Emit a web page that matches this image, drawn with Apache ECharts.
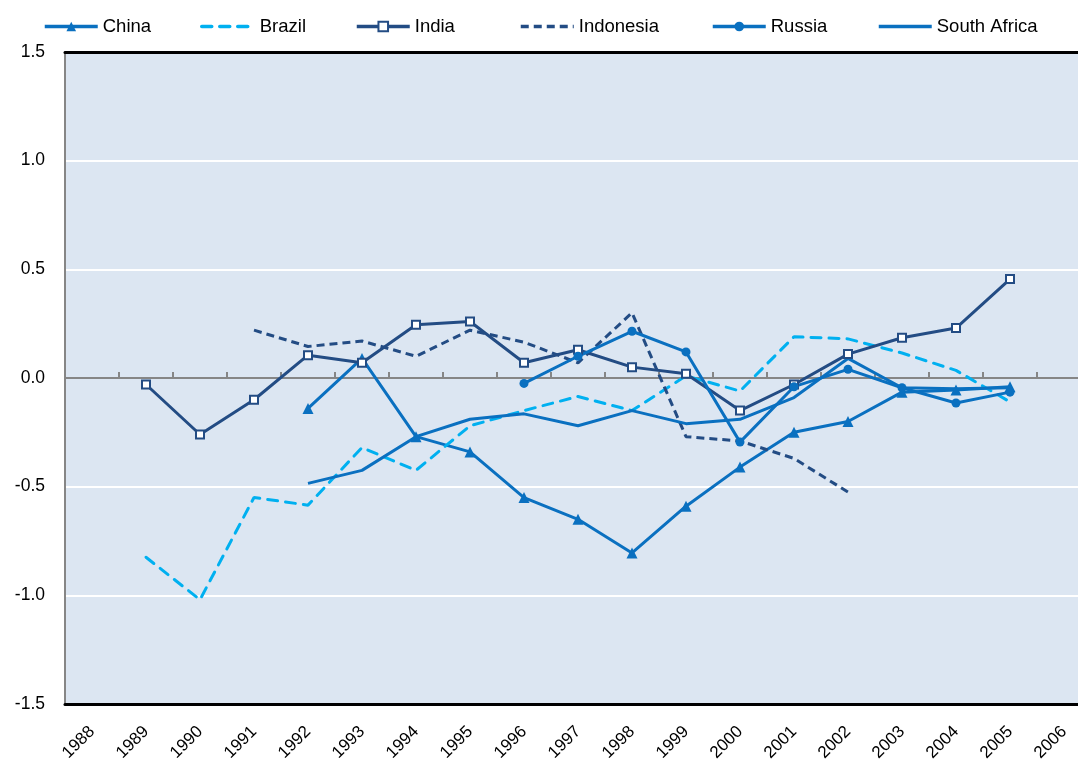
<!DOCTYPE html>
<html>
<head>
<meta charset="utf-8">
<script src="https://cdn.jsdelivr.net/npm/echarts@6/dist/echarts.min.js"></script>
<style>
  html, body { margin: 0; padding: 0; background: #fff; overflow: hidden; }
  /* the plot runs past the right edge of the window, as in the original */
  #chart { width: 1092px; height: 764px; }
</style>
</head>
<body>
<div id="chart"></div>
<script>
// years on the category axis
var years = ['1988', '1989', '1990', '1991', '1992', '1993', '1994', '1995', '1996', '1997',
  '1998', '1999', '2000', '2001', '2002', '2003', '2004', '2005', '2006'];

// values (null = no data)
var china = [null, null, null, null, -0.14, 0.09, -0.27, -0.34, -0.55, -0.65, -0.805, -0.59, -0.41, -0.25, -0.20, -0.065, -0.055, -0.04, null];
var brazil = [null, -0.825, -1.02, -0.55, -0.585, -0.32, -0.425, -0.22, -0.15, -0.085, -0.15, 0.01, -0.06, 0.19, 0.18, 0.115, 0.035, -0.11, null];
var india = [null, -0.03, -0.26, -0.10, 0.105, 0.07, 0.245, 0.26, 0.07, 0.13, 0.05, 0.02, -0.15, -0.03, 0.11, 0.185, 0.23, 0.455, null];
var indonesia = [null, null, null, 0.22, 0.145, 0.17, 0.10, 0.22, 0.165, 0.07, 0.30, -0.27, -0.29, -0.37, -0.525, null, null, null, null];
var russia = [null, null, null, null, null, null, null, null, -0.025, 0.10, 0.215, 0.12, -0.295, -0.04, 0.04, -0.045, -0.115, -0.065, null];
var southAfrica = [null, null, null, null, -0.485, -0.425, -0.27, -0.19, -0.165, -0.22, -0.15, -0.21, -0.19, -0.09, 0.09, -0.045, -0.05, -0.045, null];

var seriesNames = ['China', 'Brazil', 'India', 'Indonesia', 'Russia', 'South Africa'];
var yTicks = [-1.5, -1.0, -0.5, 0.0, 0.5, 1.0, 1.5];

var blue = '#0A70C0';
var lightBlue = '#00B0F0';
var navy = '#234C84';
var font = 'Liberation Sans, Arial, sans-serif';

// legend entries are not evenly spaced in the original, so one legend per entry
var legendLeft = [38, 195, 350, 514, 706, 872];

var chart = echarts.init(document.getElementById('chart'));

function lineSeries(name, data, color, extra) {
  var s = {
    name: name,
    type: 'line',
    data: data,
    xAxisIndex: 0,
    // invisible symbol so the legend shows a plain line
    symbol: 'circle',
    showSymbol: false,
    lineStyle: { color: color, width: 3 },
    itemStyle: { color: 'rgba(0,0,0,0)', borderWidth: 0 },
    animation: false,
    z: 5
  };
  for (var k in extra) s[k] = extra[k];
  return s;
}

var legends = seriesNames.map(function (name, i) {
  return {
    left: legendLeft[i],
    top: 12,
    itemWidth: 53,
    itemHeight: 12,
    itemGap: 0,
    selectedMode: false,
    lineStyle: { width: 3.5 },
    textStyle: { fontSize: 18.5, color: '#000', fontFamily: font },
    data: [name]
  };
});

var option = {
  backgroundColor: '#fff',
  textStyle: { fontFamily: font },
  legend: legends,
  grid: {
    left: 65,
    top: 52,
    width: 1026,
    height: 652,
    show: true,
    backgroundColor: '#DCE6F2',
    borderWidth: 0
  },
  xAxis: [
    {
      type: 'category',
      data: years,
      position: 'bottom',
      boundaryGap: true,
      axisLine: { onZero: false, lineStyle: { color: '#000', width: 3 } },
      axisTick: { show: false },
      axisLabel: { rotate: 45, margin: 25, fontSize: 17, color: '#000', interval: 0 },
      splitLine: { show: false }
    },
    {
      type: 'category',
      data: years,
      position: 'top',
      axisLine: { onZero: false, lineStyle: { color: '#000', width: 3 } },
      axisTick: { show: false },
      axisLabel: { show: false }
    },
    {
      type: 'category',
      data: years,
      position: 'bottom',
      axisLine: { onZero: true, lineStyle: { color: '#868686', width: 2 } },
      axisTick: { show: true, inside: true, length: 6, interval: 0, lineStyle: { color: '#868686', width: 2 } },
      axisLabel: { show: false }
    }
  ],
  yAxis: {
    type: 'value',
    min: yTicks[0],
    max: yTicks[yTicks.length - 1],
    interval: 0.5,
    axisLine: { show: true, lineStyle: { color: '#868686', width: 2 } },
    axisTick: { show: false },
    axisLabel: {
      fontSize: 17.5,
      color: '#000',
      margin: 20,
      formatter: function (v) { return v.toFixed(1); }
    },
    splitLine: { show: true, lineStyle: { color: '#fff', width: 2 } }
  },
  series: [
    lineSeries('China', china, blue, {
      symbol: 'triangle', symbolSize: 11, showSymbol: true, itemStyle: { color: blue }
    }),
    lineSeries('Brazil', brazil, lightBlue, {
      lineStyle: { color: lightBlue, width: 3, type: [10, 8], cap: 'round' }
    }),
    lineSeries('India', india, navy, {
      symbol: 'rect', symbolSize: 8, showSymbol: true,
      itemStyle: { color: '#fff', borderColor: navy, borderWidth: 2 }
    }),
    lineSeries('Indonesia', indonesia, navy, {
      lineStyle: { color: navy, width: 3, type: [8, 5] }
    }),
    lineSeries('Russia', russia, blue, {
      symbol: 'circle', symbolSize: 9, showSymbol: true, itemStyle: { color: blue }
    }),
    lineSeries('South Africa', southAfrica, blue, {})
  ]
};

chart.setOption(option);
</script>
</body>
</html>
